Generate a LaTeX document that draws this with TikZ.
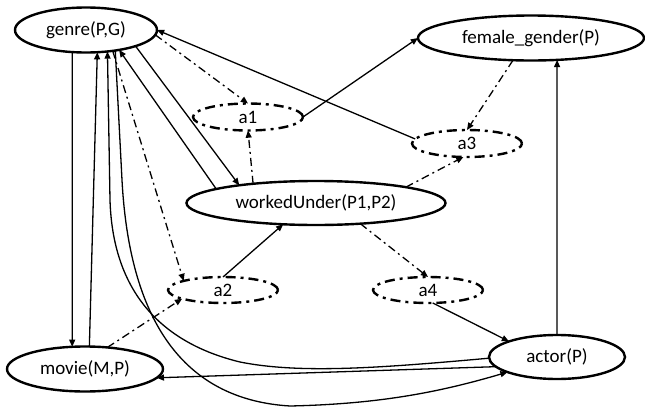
\documentclass[tikz,border=0pt]{standalone}
\usepackage{fontspec}
\setmainfont{Carlito}
\usetikzlibrary{shapes.geometric,arrows.meta}

\begin{document}
\begin{tikzpicture}[x=0.5pt,y=-0.5pt,
  term/.style={ellipse, draw, line width=1.2pt, inner sep=0pt, outer sep=0pt,
    font=\fontsize{9.5}{11}\selectfont},
  aux/.style={ellipse, draw, line width=1.2pt, inner sep=0pt, outer sep=0pt,
    minimum width=55pt, minimum height=13.5pt,
    dash pattern=on 5pt off 2.5pt on 1.5pt off 2.5pt,
    font=\fontsize{9.5}{11}\selectfont},
  edge/.style={line width=0.65pt, -{Triangle[length=3.6pt,width=3pt]}},
  dd/.style={edge, dash pattern=on 4pt off 2pt on 1pt off 2pt}]

\useasboundingbox (0,0) rectangle (645,408);

% predicates and auxiliary nodes
\node[term, minimum width=71pt, minimum height=22.5pt] (genre) at (86,30) {genre(P,G)};
\node[term, minimum width=113pt, minimum height=22.5pt] (female) at (531,38) {female\_gender(P)};
\node[aux] (a1) at (248,117) {a1};
\node[aux] (a3) at (467,143.5) {a3};
\node[term, minimum width=129.5pt, minimum height=22pt] (wu) at (316,203) {workedUnder(P1,P2)};
\node[aux, minimum height=13pt] (a2) at (223,290) {a2};
\node[aux, minimum height=13pt] (a4) at (428,290) {a4};
\node[term, minimum width=78pt, minimum height=22.5pt] (movie) at (85,369) {movie(M,P)};
\node[term, minimum width=68pt, minimum height=22pt] (actor) at (557,357) {actor(P)};

% solid links
\draw[edge] (genre.-122.4) -- (movie.120.4);
\draw[edge] (movie.79.8) -- (genre.-63.7);
\draw[edge] (actor.181) .. controls (380,368) and (300,374) .. (240,362)
  .. controls (170,345) and (113,300) .. (110,200) -- (genre.-45.7);
\draw[edge] (genre.-35.3) -- (122,180) .. controls (130,330) and (190,400) .. (290,406)
  .. controls (380,404) and (440,392) .. (actor.-163.4);
\draw[edge] (actor.-171.3) -- (movie.-7.8);
\draw[edge] (genre.-18.4) -- (wu.167.3);
\draw[edge] (wu.172.2) -- (genre.-31.1);
\draw[edge] (a3.175) -- (genre.east);
\draw[edge] (a1.east) -- (female.west);
\draw[edge] (actor.north) -- (female.-40.1);
\draw[edge] (a2.north) -- (wu.-147.2);
\draw[edge] (a4.-70) -- (actor.162.7);

% dash-dotted links
\draw[dd] (genre.-4) -- (a1.north);
\draw[dd] (wu.163.4) -- (a1.south);
\draw[dd] (female.-129) -- (a3.north);
\draw[dd] (wu.10.6) -- (a3.-105);
\draw[dd] (genre.-38.9) -- (a2.167.5);
\draw[dd] (movie.44.5) -- (a2.-168);
\draw[dd] (wu.-25.2) -- (a4.north);
\end{tikzpicture}
\end{document}
